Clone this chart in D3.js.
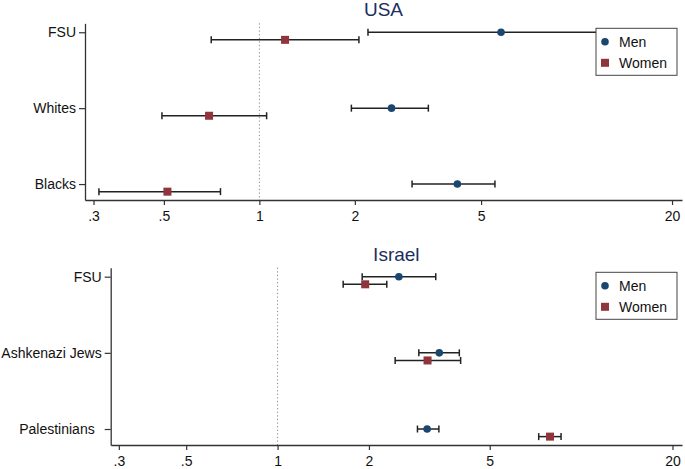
<!DOCTYPE html>
<html><head><meta charset="utf-8">
<script src="https://cdn.jsdelivr.net/npm/d3@7"></script>
<style>
body{margin:0;background:#fff;}
svg{font-family:"Liberation Sans",Arial,sans-serif;}
</style></head>
<body><svg id="c" width="685" height="469"></svg>
<script>
// ---- data ----
const xTickValues = [0.3, 0.5, 1, 2, 5, 20];
const xTickLabels = [".3", ".5", "1", "2", "5", "20"];
const seriesNames = ["Men", "Women"];

const usaGroups = ["FSU", "Whites", "Blacks"];
const usaMen = [5.78, 2.61, 4.21];
const usaMenLo = [2.20, 1.95, 3.03];
const usaMenHi = [16.0, 3.41, 5.53];
const usaWomen = [1.205, 0.694, 0.513];
const usaWomenLo = [0.705, 0.493, 0.312];
const usaWomenHi = [2.06, 1.054, 0.754];

const isrGroups = ["FSU", "Ashkenazi Jews", "Palestinians"];
const isrMen = [2.51, 3.41, 3.11];
const isrMenLo = [1.90, 2.92, 2.89];
const isrMenHi = [3.32, 3.97, 3.40];
const isrWomen = [1.944, 3.12, 7.90];
const isrWomenLo = [1.645, 2.44, 7.25];
const isrWomenHi = [2.29, 4.01, 8.59];

const menColor = "#1a476f", womenColor = "#90353b";
const svg = d3.select("#c");

function panel(cfg){
  const x = d3.scaleLog().domain([0.282, 21.5]).range([cfg.left, 682]);
  const y = d3.scaleLinear().domain([-0.118, 2.21]).range([cfg.top, cfg.bottom]);
  const g = svg.append("g");

  // reference line at 1
  g.append("line").attr("x1", x(1)).attr("x2", x(1))
    .attr("y1", cfg.top).attr("y2", cfg.bottom)
    .attr("stroke", "#888").attr("stroke-width", 1).attr("stroke-dasharray", "1.2,2.4");

  // axes
  const xa = g.append("g").attr("transform", `translate(0,${cfg.bottom})`)
    .call(d3.axisBottom(x).tickValues(xTickValues)
      .tickFormat((d,i)=>xTickLabels[i]).tickSize(5).tickSizeOuter(0).tickPadding(6));
  const ya = g.append("g").attr("transform", `translate(${cfg.left},0)`)
    .call(d3.axisLeft(y).tickValues([0,1,2])
      .tickFormat((d,i)=>cfg.groups[i]).tickSize(6).tickSizeOuter(0).tickPadding(3));
  [xa, ya].forEach(a=>{
    a.select(".domain").attr("stroke","#333").attr("stroke-width",1.3);
    a.selectAll(".tick line").attr("stroke","#333").attr("stroke-width",1.2);
    a.selectAll("text").attr("fill","#111").attr("font-size",14)
      .attr("font-family",'"Liberation Sans",Arial,sans-serif');
  });
  // Stata leaves extra room after the last category label
  ya.selectAll(".tick text").filter((d)=>d===2 && cfg.lastShift)
    .attr("x", -9 - cfg.lastShift);

  const series = [
    {v: cfg.men, lo: cfg.menLo, hi: cfg.menHi, off: 0, color: menColor, shape: "circle"},
    {v: cfg.women, lo: cfg.womenLo, hi: cfg.womenHi, off: 0.1, color: womenColor, shape: "square"}
  ];
  series.forEach(s=>{
    s.v.forEach((v,i)=>{
      const yy = y(i + s.off);
      const x0 = x(s.lo[i]), x1 = x(s.hi[i]);
      g.append("line").attr("x1",x0).attr("x2",x1).attr("y1",yy).attr("y2",yy)
        .attr("stroke","#222").attr("stroke-width",1.5);
      [x0,x1].forEach(xx=>g.append("line").attr("x1",xx).attr("x2",xx)
        .attr("y1",yy-3.5).attr("y2",yy+3.5).attr("stroke","#222").attr("stroke-width",1.5));
      if (s.shape==="circle") g.append("circle").attr("cx",x(v)).attr("cy",yy).attr("r",3.8).attr("fill",s.color);
      else g.append("rect").attr("x",x(v)-4).attr("y",yy-4).attr("width",8).attr("height",8).attr("fill",s.color);
    });
  });

  // title
  g.append("text").attr("x",(cfg.left+682)/2).attr("y",cfg.titleY)
    .attr("text-anchor","middle").attr("font-size",19).attr("fill","#1c2e5e").text(cfg.title);

  // legend
  const L = g.append("g");
  L.append("rect").attr("x",596).attr("y",cfg.legY).attr("width",81).attr("height",47)
    .attr("fill","#fff").attr("stroke","#444").attr("stroke-width",1);
  seriesNames.forEach((n,i)=>{
    const cy = cfg.legY + 13.5 + i*21;
    if (i===0) L.append("circle").attr("cx",605).attr("cy",cy).attr("r",3.8).attr("fill",menColor);
    else L.append("rect").attr("x",601).attr("y",cy-4).attr("width",8).attr("height",8).attr("fill",womenColor);
    L.append("text").attr("x",619).attr("y",cy+5).attr("font-size",14).attr("fill","#111").text(n);
  });
}

panel({title:"USA", titleY:16, left:85, top:23.3, bottom:200, legY:28.3, groups:usaGroups, lastShift:0,
  men:usaMen, menLo:usaMenLo, menHi:usaMenHi, women:usaWomen, womenLo:usaWomenLo, womenHi:usaWomenHi});
panel({title:"Israel", titleY:260.7, left:110.7, top:267.7, bottom:445, legY:272.3, groups:isrGroups, lastShift:7,
  men:isrMen, menLo:isrMenLo, menHi:isrMenHi, women:isrWomen, womenLo:isrWomenLo, womenHi:isrWomenHi});
</script></body></html>
